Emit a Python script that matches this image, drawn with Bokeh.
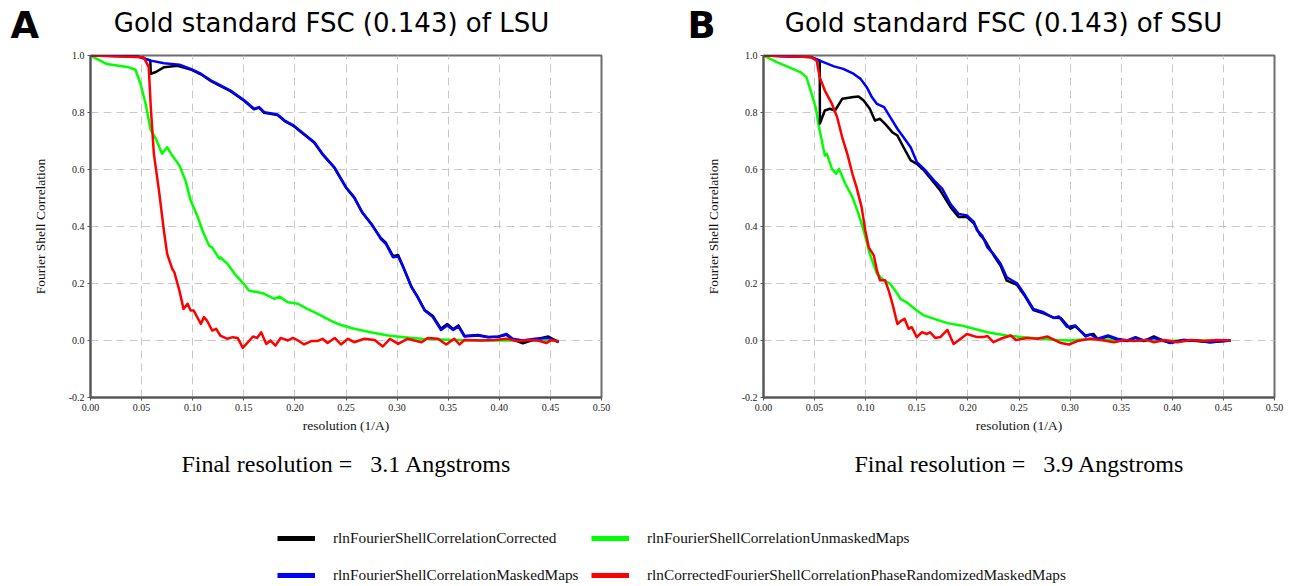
from bokeh.plotting import figure
from bokeh.models import Range1d, Label, FixedTicker, NumeralTickFormatter, Legend, LegendItem
from bokeh.layouts import column, row
from bokeh.embed import file_html
from bokeh.resources import INLINE

# ---------------- data ----------------
x_ticks = [0.0, 0.05, 0.10, 0.15, 0.20, 0.25, 0.30, 0.35, 0.40, 0.45, 0.50]
y_ticks = [-0.2, 0.0, 0.2, 0.4, 0.6, 0.8, 1.0]

series_names = [
    "rlnFourierShellCorrelationCorrected",
    "rlnFourierShellCorrelationMaskedMaps",
    "rlnFourierShellCorrelationUnmaskedMaps",
    "rlnCorrectedFourierShellCorrelationPhaseRandomizedMaskedMaps",
]
series_colors = ["#000000", "#0000ff", "#00ff00", "#ff0000"]

# LSU panel
lsu_corr_x = [0, 0.046, 0.0585, 0.059, 0.064, 0.072, 0.085, 0.098, 0.108, 0.118, 0.124, 0.137, 0.150, 0.160, 0.165,
              0.170, 0.183, 0.190, 0.199, 0.209, 0.219, 0.227, 0.2386, 0.250, 0.258, 0.266, 0.275, 0.284, 0.289,
              0.296, 0.301, 0.306, 0.314, 0.320, 0.327, 0.335, 0.343, 0.349, 0.355, 0.360, 0.366, 0.379, 0.389,
              0.399, 0.407, 0.413, 0.423, 0.435, 0.448, 0.458]
lsu_corr_y = [1.0, 0.997, 0.983, 0.936, 0.942, 0.959, 0.964, 0.951, 0.934, 0.910, 0.899, 0.875, 0.842, 0.811, 0.817,
              0.799, 0.791, 0.770, 0.752, 0.723, 0.694, 0.653, 0.606, 0.536, 0.501, 0.448, 0.407, 0.360, 0.343,
              0.296, 0.300, 0.259, 0.189, 0.154, 0.107, 0.086, 0.041, 0.058, 0.040, 0.053, 0.016, 0.019, 0.012,
              0.013, 0.020, 0.004, -0.010, 0.004, 0.014, -0.006]

lsu_mask_x = [0, 0.046, 0.059, 0.072, 0.087, 0.098, 0.108, 0.118, 0.124, 0.137, 0.150, 0.160, 0.165, 0.170, 0.183,
              0.190, 0.199, 0.209, 0.219, 0.227, 0.2386, 0.250, 0.258, 0.266, 0.275, 0.284, 0.289, 0.296, 0.301,
              0.306, 0.314, 0.320, 0.327, 0.335, 0.343, 0.349, 0.355, 0.360, 0.366, 0.379, 0.389, 0.399, 0.407,
              0.413, 0.423, 0.435, 0.448, 0.458]
lsu_mask_y = [1.0, 0.997, 0.982, 0.973, 0.968, 0.953, 0.936, 0.912, 0.901, 0.877, 0.844, 0.813, 0.819, 0.801, 0.793,
              0.772, 0.754, 0.725, 0.696, 0.655, 0.608, 0.538, 0.503, 0.450, 0.409, 0.357, 0.339, 0.292, 0.295,
              0.257, 0.187, 0.152, 0.105, 0.082, 0.037, 0.053, 0.037, 0.049, 0.014, 0.0175, 0.0117, 0.014, 0.023,
              0.006, 0.0, 0.006, 0.009, -0.006]

lsu_unmask_x = [0, 0.016, 0.036, 0.044, 0.049, 0.054, 0.059, 0.064, 0.070, 0.075, 0.080, 0.087, 0.093, 0.098, 0.105,
                0.1095, 0.116, 0.119, 0.126, 0.127, 0.134, 0.141, 0.150, 0.155, 0.163, 0.170, 0.180, 0.185, 0.193,
                0.203, 0.212, 0.222, 0.235, 0.242, 0.258, 0.274, 0.291, 0.307, 0.324, 0.356, 0.389, 0.422, 0.458]
lsu_unmask_y = [1.0, 0.97, 0.96, 0.95, 0.90, 0.83, 0.737, 0.708, 0.655, 0.678, 0.649, 0.614, 0.561, 0.491, 0.433,
                0.386, 0.333, 0.327, 0.287, 0.292, 0.269, 0.234, 0.199, 0.175, 0.170, 0.164, 0.146, 0.154, 0.134,
                0.129, 0.111, 0.094, 0.070, 0.058, 0.041, 0.029, 0.0175, 0.0117, 0.006, 0.002, 0.0, 0.0, 0.0]

lsu_rand_x = [0, 0.052, 0.057, 0.059, 0.062, 0.067, 0.072, 0.075, 0.080, 0.082, 0.087, 0.091, 0.095, 0.098, 0.101,
              0.108, 0.111, 0.114, 0.119, 0.123, 0.127, 0.134, 0.139, 0.144, 0.149, 0.154, 0.159, 0.163, 0.167,
              0.172, 0.176, 0.181, 0.186, 0.193, 0.198, 0.203, 0.209, 0.216, 0.222, 0.227, 0.232, 0.239, 0.245,
              0.252, 0.258, 0.268, 0.278, 0.286, 0.293, 0.301, 0.310, 0.324, 0.330, 0.340, 0.348, 0.356, 0.361,
              0.366, 0.382, 0.395, 0.408, 0.418, 0.428, 0.438, 0.446, 0.451, 0.458]
lsu_rand_y = [1.0, 0.994, 0.959, 0.819, 0.655, 0.526, 0.380, 0.304, 0.251, 0.240, 0.175, 0.111, 0.129, 0.105, 0.105,
              0.058, 0.082, 0.070, 0.035, 0.041, 0.0175, 0.006, 0.0117, 0.009, -0.026, -0.006, 0.014, 0.009, 0.029,
              -0.012, 0.0, -0.018, 0.009, 0.0, 0.009, 0.0, -0.014, -0.002, -0.002, 0.006, -0.009, 0.009, -0.014,
              0.006, -0.006, 0.006, 0.002, -0.021, 0.006, -0.012, 0.006, -0.006, 0.009, 0.006, -0.014, 0.006,
              -0.014, 0.002, 0.0, 0.002, 0.006, -0.002, 0.002, 0.0, -0.009, 0.002, -0.004]

# SSU panel
ssu_corr_x = [0, 0.046, 0.055, 0.0552, 0.060, 0.065, 0.070, 0.077, 0.082, 0.088, 0.093, 0.098, 0.104, 0.109, 0.114,
              0.119, 0.126, 0.131, 0.137, 0.144, 0.150, 0.157, 0.167, 0.173, 0.183, 0.191, 0.199, 0.206, 0.212,
              0.217, 0.225, 0.232, 0.238, 0.248, 0.255, 0.264, 0.274, 0.284, 0.291, 0.300, 0.305, 0.315, 0.323,
              0.327, 0.337, 0.346, 0.356, 0.364, 0.372, 0.382, 0.392, 0.398, 0.411, 0.424, 0.437, 0.457]
ssu_corr_y = [1.0, 0.995, 0.982, 0.761, 0.807, 0.813, 0.807, 0.848, 0.851, 0.854, 0.856, 0.842, 0.813, 0.772, 0.778,
              0.760, 0.731, 0.719, 0.678, 0.632, 0.620, 0.597, 0.553, 0.526, 0.468, 0.433, 0.433, 0.410, 0.370,
              0.350, 0.300, 0.262, 0.210, 0.195, 0.160, 0.107, 0.095, 0.080, 0.079, 0.041, 0.050, 0.018, 0.023,
              0.004, 0.015, 0.004, -0.002, 0.009, -0.002, 0.014, -0.002, -0.008, 0.002, -0.002, -0.006, 0.0]

ssu_mask_x = [0, 0.046, 0.055, 0.069, 0.078, 0.088, 0.095, 0.101, 0.106, 0.111, 0.118, 0.124, 0.131, 0.137, 0.144,
              0.150, 0.157, 0.167, 0.175, 0.183, 0.191, 0.199, 0.206, 0.209, 0.214, 0.219, 0.225, 0.232, 0.238,
              0.248, 0.255, 0.264, 0.274, 0.284, 0.289, 0.297, 0.305, 0.315, 0.320, 0.327, 0.337, 0.346, 0.356,
              0.364, 0.372, 0.382, 0.392, 0.398, 0.411, 0.424, 0.437, 0.457]
ssu_mask_y = [1.0, 0.995, 0.982, 0.962, 0.953, 0.936, 0.918, 0.889, 0.854, 0.830, 0.819, 0.784, 0.743, 0.713, 0.678,
              0.626, 0.602, 0.561, 0.532, 0.479, 0.444, 0.439, 0.415, 0.386, 0.368, 0.327, 0.304, 0.269, 0.222,
              0.201, 0.164, 0.111, 0.099, 0.079, 0.084, 0.047, 0.053, 0.014, 0.021, 0.006, 0.0175, 0.006, 0.0,
              0.0117, 0.0, 0.009, 0.0, -0.009, 0.002, 0.0, -0.006, 0.0]

ssu_unmask_x = [0, 0.013, 0.023, 0.036, 0.042, 0.047, 0.051, 0.054, 0.060, 0.062, 0.067, 0.071, 0.074, 0.080, 0.087,
                0.093, 0.098, 0.104, 0.111, 0.118, 0.124, 0.131, 0.134, 0.140, 0.150, 0.157, 0.167, 0.180, 0.193,
                0.206, 0.219, 0.232, 0.238, 0.255, 0.287, 0.300, 0.320, 0.353, 0.385, 0.418, 0.457]
ssu_unmask_y = [1.0, 0.977, 0.962, 0.942, 0.924, 0.866, 0.819, 0.754, 0.649, 0.655, 0.602, 0.585, 0.602, 0.550, 0.503,
                0.444, 0.386, 0.304, 0.234, 0.211, 0.199, 0.164, 0.146, 0.134, 0.105, 0.088, 0.076, 0.061, 0.053,
                0.041, 0.029, 0.021, 0.0175, 0.0117, 0.002, 0.0, 0.006, 0.0, -0.002, 0.0, 0.0]

ssu_rand_x = [0, 0.046, 0.052, 0.055, 0.060, 0.067, 0.072, 0.077, 0.082, 0.087, 0.091, 0.096, 0.0996, 0.103, 0.108,
              0.111, 0.114, 0.119, 0.123, 0.127, 0.131, 0.135, 0.138, 0.142, 0.145, 0.150, 0.155, 0.160, 0.163,
              0.168, 0.173, 0.180, 0.186, 0.193, 0.199, 0.209, 0.215, 0.219, 0.225, 0.232, 0.242, 0.247, 0.258,
              0.268, 0.278, 0.291, 0.299, 0.307, 0.320, 0.333, 0.343, 0.353, 0.362, 0.375, 0.382, 0.392, 0.405,
              0.418, 0.431, 0.444, 0.457]
ssu_rand_y = [1.0, 0.995, 0.982, 0.924, 0.877, 0.830, 0.784, 0.713, 0.655, 0.585, 0.538, 0.468, 0.386, 0.327, 0.298,
              0.246, 0.211, 0.211, 0.170, 0.117, 0.058, 0.070, 0.076, 0.041, 0.047, 0.012, 0.029, 0.023, 0.029,
              0.009, 0.012, 0.037, -0.012, 0.006, 0.023, 0.012, 0.012, 0.016, -0.006, 0.006, 0.0175, 0.002, 0.009,
              0.006, 0.014, -0.009, -0.014, -0.002, 0.006, 0.0, -0.006, 0.002, -0.002, 0.002, -0.006, 0.002,
              -0.006, 0.002, -0.002, 0.002, 0.0]

panel_letters = ["A", "B"]
panel_titles = ["Gold standard FSC (0.143) of LSU", "Gold standard FSC (0.143) of SSU"]
final_texts = ["Final resolution =\u00a0\u00a0\u00a03.1 Angstroms", "Final resolution =\u00a0\u00a0\u00a03.9 Angstroms"]
x_label = "resolution (1/A)"
y_label = "Fourier Shell Correlation"

SERIF = "Liberation Serif"
SANS = "DejaVu Sans"


def strip(width, height):
    s = figure(width=width, height=height, x_range=Range1d(5, 6), y_range=Range1d(5, 6),
               x_axis_type=None, y_axis_type=None, output_backend="svg", toolbar_location=None,
               min_border=0)
    s.outline_line_color = None
    s.xgrid.visible = False
    s.ygrid.visible = False
    return s


def make_panel(width, left, right, curves):
    p = figure(width=width, height=390, x_range=Range1d(0, 0.5), y_range=Range1d(-0.2, 1.0),
               output_backend="svg", toolbar_location=None,
               min_border_left=left, min_border_right=right, min_border_top=5, min_border_bottom=43)
    p.background_fill_color = "white"
    p.border_fill_color = "white"
    p.outline_line_color = "#6e6e6e"
    p.outline_line_width = 2

    p.xaxis.ticker = FixedTicker(ticks=x_ticks)
    p.yaxis.ticker = FixedTicker(ticks=y_ticks)
    p.xaxis.formatter = NumeralTickFormatter(format="0.00")
    p.yaxis.formatter = NumeralTickFormatter(format="0.0")
    for ax in (p.xaxis, p.yaxis):
        ax.axis_line_color = "#555555"
        ax.axis_line_width = 2
        ax.major_tick_line_color = "#555555"
        ax.major_tick_in = 0
        ax.major_tick_out = 3
        ax.minor_tick_line_color = None
        ax.major_label_text_font = SERIF
        ax.major_label_text_font_size = "10px"
        ax.major_label_text_color = "#222222"
        ax.axis_label_text_font = SERIF
        ax.axis_label_text_font_size = "13.5px"
        ax.axis_label_text_font_style = "normal"
        ax.axis_label_text_color = "#111111"
    p.xaxis.axis_label = x_label
    p.yaxis.axis_label = y_label
    p.xaxis.major_label_standoff = 3
    p.yaxis.major_label_standoff = 3
    p.xaxis.axis_label_standoff = 4
    p.yaxis.axis_label_standoff = 18

    for g in (p.xgrid, p.ygrid):
        g.grid_line_color = "#c8c8c8"
        g.grid_line_dash = "8 5"
        g.grid_line_width = 1

    # draw order: unmasked (green), corrected (black), masked (blue), phase randomized (red)
    for i in [2, 0, 1, 3]:
        xs, ys = curves[i]
        p.line(xs, ys, line_color=series_colors[i], line_width=2.5, line_join="round")
    return p


lsu_curves = [(lsu_corr_x, lsu_corr_y), (lsu_mask_x, lsu_mask_y),
              (lsu_unmask_x, lsu_unmask_y), (lsu_rand_x, lsu_rand_y)]
ssu_curves = [(ssu_corr_x, ssu_corr_y), (ssu_mask_x, ssu_mask_y),
              (ssu_unmask_x, ssu_unmask_y), (ssu_rand_x, ssu_rand_y)]

pA = make_panel(680, 90, 79, lsu_curves)
pB = make_panel(618, 83, 24, ssu_curves)

# ---- header strip: panel letters and titles ----
header = strip(1298, 50)
for letter, lx in zip(panel_letters, [10, 687]):
    header.add_layout(Label(x=lx, y=25, x_units="screen", y_units="screen", text=letter,
                            text_font=SANS, text_font_style="bold", text_font_size="37px",
                            text_align="left", text_baseline="alphabetic", text_color="black"))
for title, tx in zip(panel_titles, [331, 1003]):
    header.add_layout(Label(x=tx, y=28, x_units="screen", y_units="screen", text=title,
                            text_font=SANS, text_font_size="26px",
                            text_align="center", text_baseline="alphabetic", text_color="black"))

# ---- footer strip: final resolution and legend ----
footer = strip(1298, 146)
for final, fx in zip(final_texts, [346, 1019]):
    footer.add_layout(Label(x=fx, y=123, x_units="screen", y_units="screen", text=final,
                            text_font=SERIF, text_font_size="24px",
                            text_align="center", text_baseline="alphabetic", text_color="black"))

# legend renderers (series drawn outside the strip's visible range; only their legend glyphs show)
rends = [footer.line(xs, ys, line_color=c, line_width=5, line_cap="butt")
         for (xs, ys), c in zip(lsu_curves, series_colors)]


def make_legend(idx, x):
    return Legend(items=[LegendItem(label=series_names[i], renderers=[rends[i]]) for i in idx],
                  location=(x, 1), orientation="vertical", padding=0, margin=0,
                  border_line_color=None, background_fill_alpha=0,
                  glyph_width=38, glyph_height=20, label_height=20, spacing=17, label_standoff=18,
                  label_text_font=SERIF, label_text_font_size="15.3px", label_text_color="#111111")


footer.add_layout(make_legend([0, 1], 277))
footer.add_layout(make_legend([2, 3], 591))

layout = column(header, row(pA, pB), footer)
open("out.html", "w").write(file_html(layout, INLINE))
